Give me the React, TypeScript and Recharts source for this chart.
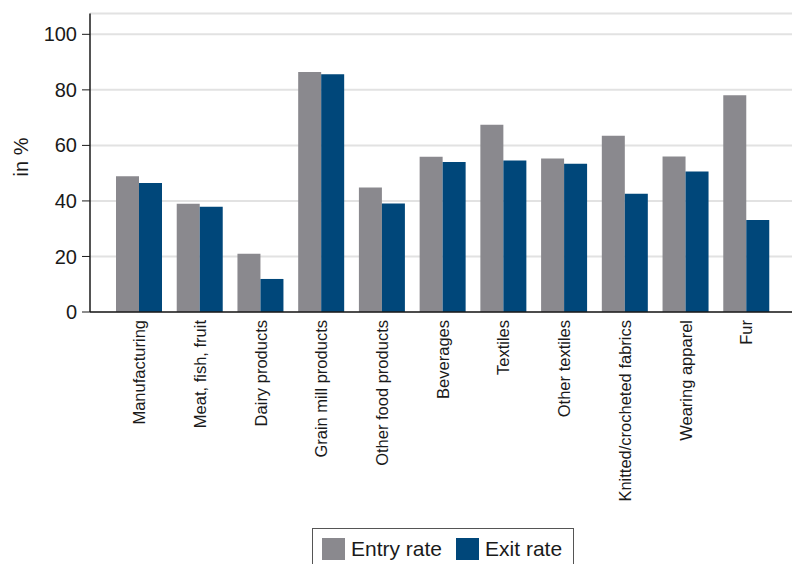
import React from 'react';
import { BarChart, Bar, XAxis, YAxis, CartesianGrid, Legend } from 'recharts';

const categories = [
  'Manufacturing', 'Meat, fish, fruit', 'Dairy products', 'Grain mill products',
  'Other food products', 'Beverages', 'Textiles', 'Other textiles',
  'Knitted/crocheted fabrics', 'Wearing apparel', 'Fur',
];
const entryRate = [48.9, 39.0, 21.0, 86.4, 44.8, 55.9, 67.4, 55.3, 63.5, 56.0, 78.1];
const exitRate = [46.5, 37.9, 11.9, 85.6, 39.1, 54.0, 54.6, 53.4, 42.6, 50.6, 33.1];
const yTicks = [0, 20, 40, 60, 80, 100];

const GREY = '#8a898e';
const BLUE = '#00477a';
const FONT = '"Liberation Sans", Arial, sans-serif';

const data = categories.map((name, i) => ({ name, entry: entryRate[i], exit: exitRate[i] }));

const CategoryTick = ({ x, y, payload }: any) => (
  <text
    x={x}
    y={y}
    transform={`rotate(-90, ${x}, ${y})`}
    textAnchor="end"
    dy="0.35em"
    fontSize={16.5}
    fontFamily={FONT}
    fill="#1a1a1a"
  >
    {payload.value}
  </text>
);

const LegendBox = () => (
  <div
    style={{
      border: '1px solid #555',
      height: 40,
      boxSizing: 'border-box',
      display: 'flex',
      alignItems: 'flex-start',
      paddingTop: 9,
      paddingLeft: 9,
      fontFamily: FONT,
      fontSize: 21,
      color: '#1a1a1a',
      whiteSpace: 'nowrap',
    }}
  >
    <span style={{ width: 23, height: 22, background: GREY, display: 'inline-block', marginRight: 6 }} />
    <span style={{ lineHeight: '22px', marginRight: 14 }}>Entry rate</span>
    <span style={{ width: 23, height: 22, background: BLUE, display: 'inline-block', marginRight: 6 }} />
    <span style={{ lineHeight: '22px' }}>Exit rate</span>
  </div>
);

export default function App() {
  return (
    <div style={{ position: 'fixed', left: 0, top: 0, width: 792, height: 564, overflow: 'hidden', background: '#fff' }}>
      <BarChart
        width={800}
        height={570}
        data={data}
        margin={{ top: 13.5, right: 4, left: 0, bottom: 2 }}
        barGap={0}
        barSize={23}
      >
        <CartesianGrid horizontal vertical={false} stroke="#e2e2e2" strokeWidth={2} />
        <XAxis
          dataKey="name"
          interval={0}
          height={216}
          padding={{ left: 19, right: 19 }}
          axisLine={{ stroke: '#1a1a1a', strokeWidth: 1.5 }}
          tickLine={false}
          tickSize={0}
          tickMargin={8}
          tick={<CategoryTick />}
        />
        <XAxis
          xAxisId="top"
          dataKey="name"
          orientation="top"
          height={0}
          tick={false}
          tickLine={false}
          padding={{ left: 19, right: 19 }}
          axisLine={{ stroke: '#1a1a1a', strokeWidth: 1.5 }}
        />
        <YAxis
          width={90}
          domain={[0, 107.5]}
          ticks={yTicks}
          interval={0}
          axisLine={{ stroke: '#1a1a1a', strokeWidth: 1.5 }}
          tickLine={{ stroke: '#1a1a1a' }}
          tickSize={8}
          tickMargin={5}
          tick={{ fontSize: 20, fontFamily: FONT, fill: '#1a1a1a' }}
          label={{
            content: () => (
              <text
                x={28}
                y={157}
                transform="rotate(-90, 28, 157)"
                textAnchor="middle"
                fontSize={20}
                fontFamily={FONT}
                fill="#1a1a1a"
              >
                in %
              </text>
            ),
          }}
        />
        <Legend
          verticalAlign="bottom"
          height={40}
          wrapperStyle={{ left: 312, width: 262 }}
          content={<LegendBox />}
        />
        <Bar dataKey="entry" name="Entry rate" fill={GREY} isAnimationActive={false} />
        <Bar dataKey="exit" name="Exit rate" fill={BLUE} isAnimationActive={false} />
      </BarChart>
    </div>
  );
}
